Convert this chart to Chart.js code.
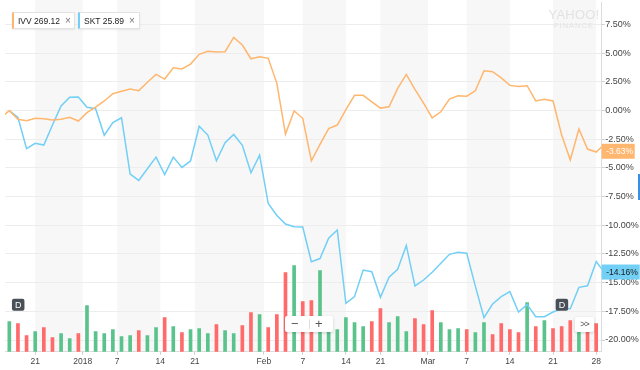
<!DOCTYPE html>
<html><head><meta charset="utf-8">
<script src="https://cdn.jsdelivr.net/npm/chart.js@4.4.1/dist/chart.umd.min.js"></script>
<style>
html,body{margin:0;padding:0;background:#fff;}
#wrap{position:relative;width:640px;height:370px;overflow:hidden;font-family:"Liberation Sans",Arial,sans-serif;}
#cv{position:absolute;left:0;top:0;}
.chip{position:absolute;top:12px;height:17px;box-sizing:border-box;background:#fff;border:1px solid #e2e2e2;border-left-width:2px;box-shadow:0 1px 2px rgba(0,0,0,0.07);font-size:8.5px;color:#222;line-height:15px;padding-left:4px;white-space:nowrap;}
.chip .x{color:#777;margin-left:5px;font-size:10px;}
.ctl{position:absolute;background:#fff;border-radius:2px;box-shadow:0 1px 3px rgba(0,0,0,0.18);color:#555;text-align:center;}
#wm{position:absolute;left:548px;top:8px;width:52px;text-align:center;color:#e2e2e2;line-height:1;}
</style></head>
<body>
<div id="wrap">
<canvas id="cv" width="640" height="370"></canvas>
<div id="chips"></div>
<div id="wm"><div style="font-size:13px;letter-spacing:0.2px;">YAHOO!</div><div style="font-size:7.5px;letter-spacing:1px;margin-top:1px;">FINANCE</div></div>
<div class="ctl" style="left:285px;top:316px;width:48px;height:16px;">
  <span style="position:absolute;left:6px;top:0;font-size:13px;line-height:16px;">&minus;</span>
  <span style="position:absolute;left:23.5px;top:3px;width:1px;height:10px;background:#ddd;"></span>
  <span style="position:absolute;left:30px;top:0;font-size:13px;line-height:16px;">+</span>
</div>
<div class="ctl" style="left:575px;top:317px;width:19px;height:15px;font-size:9px;line-height:15px;letter-spacing:-1px;">&gt;&gt;</div>
<div style="position:absolute;left:638px;top:174px;width:2px;height:26px;background:#3b8fe2;"></div>
</div>
<script>
// ---- data ----
const dates = ["2017-12-15","2017-12-18","2017-12-19","2017-12-20","2017-12-21","2017-12-22","2017-12-26","2017-12-27","2017-12-28","2017-12-29",
"2018-01-02","2018-01-03","2018-01-04","2018-01-05","2018-01-08","2018-01-09","2018-01-10","2018-01-11","2018-01-12","2018-01-16","2018-01-17","2018-01-18","2018-01-19","2018-01-22","2018-01-23","2018-01-24","2018-01-25","2018-01-26","2018-01-29","2018-01-30","2018-01-31",
"2018-02-01","2018-02-02","2018-02-05","2018-02-06","2018-02-07","2018-02-08","2018-02-09","2018-02-12","2018-02-13","2018-02-14","2018-02-15","2018-02-16","2018-02-20","2018-02-21","2018-02-22","2018-02-23","2018-02-26","2018-02-27","2018-02-28",
"2018-03-01","2018-03-02","2018-03-05","2018-03-06","2018-03-07","2018-03-08","2018-03-09","2018-03-12","2018-03-13","2018-03-14","2018-03-15","2018-03-16","2018-03-19","2018-03-20","2018-03-21","2018-03-22","2018-03-23","2018-03-26","2018-03-27","2018-03-28","2018-03-29"];

const ivvPct = [-0.65,0.00,-0.76,-0.88,-0.67,-0.70,-0.82,-0.76,-0.58,-0.91,
-0.18,0.31,0.84,1.47,1.68,1.88,1.74,2.47,3.16,2.75,3.74,3.63,4.06,4.91,5.17,5.11,5.14,6.39,5.72,4.52,4.70,
4.56,2.38,-2.04,-0.03,-0.67,-4.37,-2.95,-1.57,-1.26,0.08,1.33,1.33,0.77,0.22,0.34,1.94,3.16,1.85,0.66,
-0.63,-0.10,1.01,1.29,1.26,1.73,3.48,3.39,2.85,2.20,2.10,2.17,0.84,0.99,0.84,-2.13,-4.31,-1.60,-3.35,-3.61,-2.90];

const sktPct = [null,0.00,-0.60,-3.32,-2.85,-3.00,-1.26,0.40,1.16,1.19,
0.29,0.17,-2.15,-1.05,-0.62,-5.53,-6.08,-5.07,-4.05,-5.57,-4.05,-4.95,-4.39,-1.36,-2.13,-4.37,-2.80,-2.08,-3.03,-5.42,-3.88,
-8.10,-9.15,-9.89,-10.12,-10.15,-13.17,-12.90,-11.13,-10.41,-16.80,-16.22,-13.90,-14.04,-16.28,-14.53,-13.84,-11.75,-15.29,-14.77,
-14.10,-13.31,-12.53,-12.35,-12.44,-15.30,-18.06,-16.86,-16.22,-15.78,-17.56,-16.92,-17.97,-17.97,-17.56,-17.27,-17.27,-15.41,-15.27,-13.17,-14.16];

const volume = [null,3000,2800,1600,2000,2400,1400,1800,1300,1800,
4600,2000,1800,2200,1500,1600,2100,1600,2400,3400,2500,1900,2200,2300,1800,2700,2100,1800,2600,3900,3700,
2400,3700,7900,8600,5000,5100,8100,2400,2200,3400,2900,2500,3000,4300,2900,3500,2000,3300,2700,
4100,2900,2200,2300,2200,1900,2900,1700,2800,2200,1900,4900,2500,3100,2300,2500,3100,2600,2400,2800,null];

const volumeUp = [null,1,0,0,1,0,0,1,1,0,
1,1,1,1,1,1,0,1,1,0,1,0,1,1,1,0,1,1,0,0,1,
0,0,0,1,0,0,1,1,1,1,1,1,0,0,1,1,1,0,0,
0,1,1,1,0,1,1,0,0,0,0,1,0,1,0,0,0,1,0,0,null];

const xTickPos = [3,8.5,12.5,17.5,21.5,29.5,34,39,43,48.5,53,58,63,68];
const xTickLabels = ["21","2018","7","14","21","Feb","7","14","21","Mar","7","14","21","28"];
const yTickValues = [7.5,5,2.5,0,-2.5,-5,-7.5,-10,-12.5,-15,-17.5,-20];
const dividendIdx = [1,64];
const seriesNames = ["IVV","SKT"];
const seriesPrices = ["269.12","25.89"];
const lastPct = [-3.63,-14.16];

// ---- styles ----
const ORANGE = "#ffb66e", BLUE = "#72cff5", GREEN = "#5ac38c", RED = "#ff6a6a";
const FONT = "'Liberation Sans', Arial, sans-serif";

// chips
const chipBox = document.getElementById('chips');
const chipLeft = [12,78], chipW = [63,62], chipCol = [ORANGE, BLUE];
seriesNames.forEach((n,k)=>{
  const d=document.createElement('div');
  d.className='chip';
  d.style.left=chipLeft[k]+'px'; d.style.width=chipW[k]+'px'; d.style.borderLeftColor=chipCol[k];
  d.innerHTML=n+' '+seriesPrices[k]+'<span class="x">\u00d7</span>';
  chipBox.appendChild(d);
});

const idx = k => k - 1;
const toXY = arr => arr.map((v,k)=>({x:idx(k), y:v}));

const decor = {
  id:'decor',
  beforeDraw(chart){
    const {ctx, chartArea:a, scales:{x}} = chart;
    ctx.save();
    ctx.fillStyle = '#f7f7f7';
    for (let k=0;k<xTickPos.length;k+=2){
      const x0 = x.getPixelForValue(xTickPos[k]);
      const x1 = k+1<xTickPos.length ? x.getPixelForValue(xTickPos[k+1]) : a.right;
      ctx.fillRect(x0, 0, x1-x0, a.bottom);
    }
    ctx.restore();
  },
  afterDraw(chart){
    const {ctx, chartArea:a, scales:{x,y}} = chart;
    ctx.save();
    // dividend markers
    dividendIdx.forEach(i=>{
      const px = x.getPixelForValue(i);
      const py = a.bottom - 47;
      ctx.fillStyle = '#4a5058';
      ctx.beginPath();
      ctx.roundRect(px-6, py-6, 12.5, 12, 2);
      ctx.fill();
      ctx.fillStyle = '#fff';
      ctx.font = '9px ' + FONT;
      ctx.textAlign='center'; ctx.textBaseline='middle';
      ctx.fillText('D', px+0.3, py+0.5);
    });
    // last value boxes
    const fills=[ORANGE, BLUE], txt=['#fff','#1a1a1a'], widths=[33,38];
    lastPct.forEach((v,k)=>{
      const py = y.getPixelForValue(v) - 1;
      ctx.fillStyle = fills[k];
      ctx.fillRect(a.right, py-7.5, widths[k], 15);
      ctx.fillStyle = txt[k];
      ctx.font = '8.5px ' + FONT;
      ctx.textAlign='left'; ctx.textBaseline='middle';
      ctx.fillText(v.toFixed(2)+'%', a.right+4.5, py+0.5);
    });
    ctx.restore();
  }
};

new Chart(document.getElementById('cv'), {
  type:'line',
  data:{
    datasets:[
      {label:'IVV', data:toXY(ivvPct), borderColor:ORANGE, borderWidth:1.5, pointRadius:0, tension:0, yAxisID:'y', order:0, spanGaps:false},
      {label:'SKT', data:toXY(sktPct), borderColor:BLUE, borderWidth:1.5, pointRadius:0, tension:0, yAxisID:'y', order:0},
      {type:'bar', label:'Volume', data:toXY(volume), yAxisID:'yv', order:1, barThickness:3,
       backgroundColor: volumeUp.map(u=>u?GREEN:RED)}
    ]
  },
  options:{
    responsive:false, animation:false, devicePixelRatio:1,
    layout:{padding:{left:5, top:2, right:0, bottom:0}},
    plugins:{legend:{display:false}, tooltip:{enabled:false}},
    scales:{
      x:{type:'linear', position:'bottom', min:-0.5, max:68.64, offset:false,
        grid:{drawOnChartArea:false, offset:false, tickLength:3, tickColor:'#cfcfcf'},
        border:{display:true, color:'#dcdcdc'},
        afterBuildTicks(s){ s.ticks = xTickPos.map(v=>({value:v})); },
        afterFit(s){ s.height = 18.3; s.paddingLeft=0; s.paddingRight=0; },
        ticks:{autoSkip:false, maxRotation:0, padding:1.5, color:'#444', font:{family:FONT, size:8.5},
          callback:(v,i)=>xTickLabels[i]}
      },
      y:{type:'linear', position:'right', min:-21.02, max:9.47,
        grid:{color:'#ededed', tickLength:3, tickColor:'#cfcfcf'},
        border:{display:true, color:'#dcdcdc'},
        afterBuildTicks(s){ s.ticks = yTickValues.map(v=>({value:v})); },
        afterFit(s){ s.width = 38.3; s.paddingTop=0; s.paddingBottom=0; },
        ticks:{padding:0.5, color:'#444', font:{family:FONT, size:9}, callback:v=>v.toFixed(2)+'%'}
      },
      yv:{type:'linear', display:false, min:0, max:34970}
    }
  },
  plugins:[decor]
});
</script>
</body></html>
